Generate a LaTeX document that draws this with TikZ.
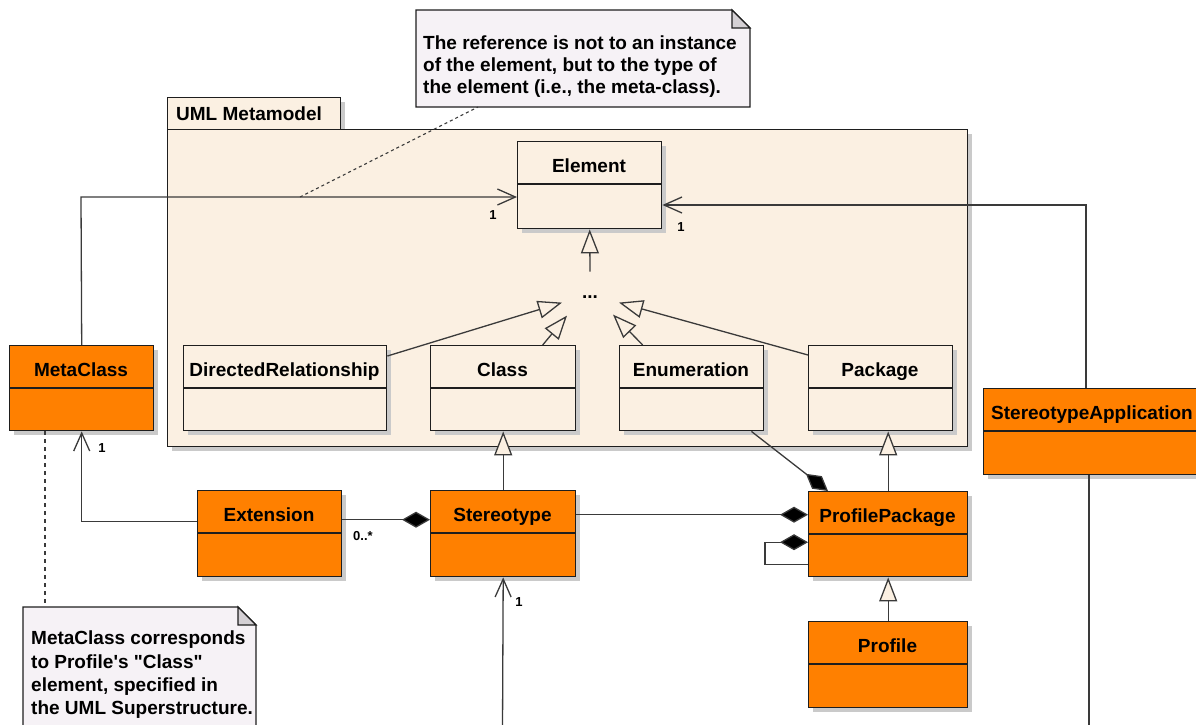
\documentclass[tikz,border=0pt]{standalone}
\usepackage{fontspec}
\setmainfont{Liberation Sans}[Ligatures=TeXOff]
\usetikzlibrary{arrows.meta,calc}

\definecolor{pkgfill}{HTML}{FBF0E2}
\definecolor{clsorange}{HTML}{FF8000}
\definecolor{notefill}{HTML}{F6F2F6}
\definecolor{foldfill}{HTML}{D4D0D4}
\definecolor{shadowgray}{HTML}{CACACA}
\definecolor{edgegray}{HTML}{3A3A3A}
\definecolor{boxline}{HTML}{1E1E1E}

\tikzset{
  box/.style={draw=boxline, line width=1.4pt, inner sep=0pt, anchor=north west},
  clsname/.style={font=\fontsize{19}{22}\selectfont\bfseries, anchor=base, inner sep=0pt},
  edge/.style={draw=edgegray, line width=1.3pt},
  gen/.style={edge, -{Triangle[length=24pt,width=18pt,fill=pkgfill]}},
  assoc/.style={edge, -{Straight Barb[length=18pt,width=16pt]}},
  comp/.style={edge, -{Diamond[length=28pt,width=16pt,fill=black]}},
  mult/.style={font=\fontsize{13}{15}\selectfont\bfseries, inner sep=0pt},
  noteanchor/.style={draw=edgegray, line width=1.1pt, dash pattern=on 3pt off 3pt},
  notebox/.style={draw=boxline, line width=1.2pt, fill=notefill},
  notefold/.style={draw=boxline, line width=1.2pt, fill=foldfill},
  notetext/.style={align=left, inner sep=0pt, anchor=north west},
}

% class box: name, fill, x1, y1, x2, y2, label (name compartment 43 high)
\newcommand\umlclass[7]{%
  \fill[shadowgray] ({#3+5},{#4+5}) rectangle ({#5+5},{#6+5});
  \node[box, fill=#2, minimum width={(#5-#3)*1pt}, minimum height={(#6-#4)*1pt}] (#1) at (#3,#4) {};
  \draw[draw=boxline, line width=1.4pt] (#3,{#4+43}) -- (#5,{#4+43});
  \node[clsname] (#1-name) at ({(#3+#5)/2},{#4+31}) {#7};
}

\begin{document}
\begin{tikzpicture}[x=1pt,y=-1pt]
\path[use as bounding box] (0,0) rectangle (1196,724);
\clip (0,0) rectangle (1196,724);

% note about the referenced meta-class
\path[notebox] (416,10) -- (732,10) -- (750,28) -- (750,107) -- (416,107) -- cycle;
\path[notefold] (732,10) -- (732,28) -- (750,28) -- cycle;
\node[notetext, font=\fontsize{19}{22}\selectfont\bfseries] (note1) at (423,36)
  {The reference is not to an instance\\of the element, but to the type of\\the element (i.e., the meta-class).};
\coordinate (n1foot) at (478,107);

% UML Metamodel package
\fill[shadowgray] (172,102) rectangle (345,134);
\fill[shadowgray] (172,134) rectangle (972,451);
\node[box, fill=pkgfill, minimum width=173pt, minimum height=32pt] (pkgtab) at (167,97) {};
\node[box, fill=pkgfill, minimum width=800pt, minimum height=317pt] (pkg) at (167,129) {};
\node[clsname, anchor=base west] (pkgtab-name) at (176,120) {UML Metamodel};

% metamodel classes
\umlclass{element}{pkgfill}{517}{141}{661}{228}{Element}
\umlclass{dr}{pkgfill}{183}{345}{386}{430}{DirectedRelationship}
\umlclass{class}{pkgfill}{430}{345}{575}{430}{Class}
\umlclass{enum}{pkgfill}{619}{345}{763}{430}{Enumeration}
\umlclass{pkgcls}{pkgfill}{808}{345}{952}{430}{Package}
\node[clsname] (dots) at (590,298) {...};

% profile classes
\umlclass{metaclass}{clsorange}{9}{345}{153}{430}{MetaClass}
\umlclass{ext}{clsorange}{197}{490}{341}{576}{Extension}
\umlclass{stereo}{clsorange}{430}{490}{575}{576}{Stereotype}
\umlclass{pp}{clsorange}{808}{491}{967}{576}{ProfilePackage}
\umlclass{profile}{clsorange}{808}{621}{967}{707}{Profile}
\umlclass{stapp}{clsorange}{983}{388}{1201}{474}{StereotypeApplication}

% note about MetaClass
\path[notebox] (23,607) -- (238,607) -- (256,625) -- (256,740) -- (23,740) -- cycle;
\path[notefold] (238,607) -- (238,625) -- (256,625) -- cycle;
\node[notetext, font=\fontsize{19}{23.3}\selectfont\bfseries] (note2) at (31,631)
  {MetaClass corresponds\\to Profile's "Class"\\element, specified in\\the UML Superstructure.};

% generalizations
\draw[gen] ($(dots.center)+(0,-25)$) -- (element.south);
\draw[gen] ($(dr.north east)+(0,11)$) -- ($(dots.center)+(-28,6)$);
\draw[gen] ($(class.north)+(39.5,0)$) -- ($(dots.center)+(-23,19)$);
\draw[gen] ($(enum.north)+(-49,0)$) -- ($(dots.center)+(23,18)$);
\draw[gen] ($(pkgcls.north west)+(0,10)$) -- ($(dots.center)+(29,6)$);
\draw[gen] (stereo.north) -- (class.south);
\draw[gen] (pp.north) -- (pp.north |- pkgcls.south);
\draw[gen] (profile.north) -- (pp.south);

% associations
\coordinate (mcbend) at (81,197);
\draw[assoc] (metaclass.north) -- (mcbend) -- (element.west |- mcbend);
\coordinate (sabend) at (1086,205);
\draw[assoc] (stapp.north -| sabend) -- (sabend) -- (element.east |- sabend);
\draw[assoc] ($(ext.west)+(0,-12)$) -| (metaclass.south);
\coordinate (stbot) at (502.5,730);
\draw[assoc] (stbot) -- (stereo.south);
\coordinate (sabot) at (1089,730);
\draw[edge] (stapp.south -| sabot) -- (sabot);

% compositions
\draw[comp] ($(ext.east)+(0,-14)$) -- ($(stereo.west)+(0,-14)$);
\draw[comp] ($(stereo.east)+(0,-19)$) -- ($(pp.west)+(0,-19.5)$);
\draw[comp] ($(pp.west)+(0,30)$) -- ++(-43,0) -- ++(0,-22) -- ($(pp.west)+(0,8)$);
\draw[comp] ($(enum.south east)+(-13,0)$) -- ($(pp.north west)+(20,0)$);

% multiplicities
\node[mult] (m-el-l) at (493,215) {1};
\node[mult] (m-el-r) at (681,227) {1};
\node[mult] (m-mc) at (102,448) {1};
\node[mult] (m-ext) at (363,536) {0..*};
\node[mult] (m-st) at (519,602) {1};

% note anchors
\coordinate (n1tail) at (300,197);
\draw[noteanchor] (n1tail) -- (n1foot);
\draw[noteanchor, dash pattern=on 4pt off 4pt] ($(metaclass.south west)+(36,0)$) -- (45,607);
\end{tikzpicture}
\end{document}
